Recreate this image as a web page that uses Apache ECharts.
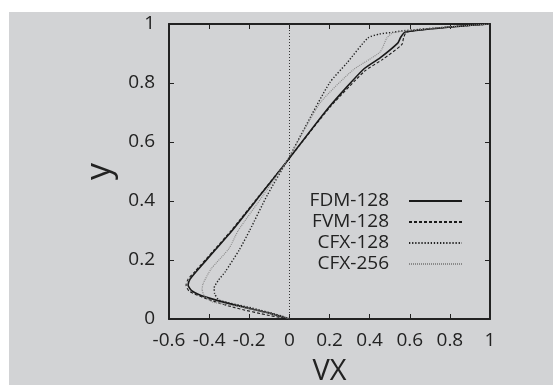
<!DOCTYPE html>
<html>
<head>
<meta charset="utf-8">
<script src="https://cdn.jsdelivr.net/npm/echarts@6/dist/echarts.min.js"></script>
<style>
  html, body { margin: 0; padding: 0; background: #ffffff; }
  #chart { width: 553px; height: 385px; }
</style>
</head>
<body>
<div id="chart"></div>
<script>
// x ticks / y ticks
const xTicks = [-0.6, -0.4, -0.2, 0, 0.2, 0.4, 0.6, 0.8, 1]
const yTicks = [0, 0.2, 0.4, 0.6, 0.8, 1]

const seriesNames = ['FDM-128', 'FVM-128', 'CFX-128', 'CFX-256']

// FDM-128 (solid)
const fdmY = [0, 0.02, 0.047, 0.075, 0.095, 0.115, 0.135, 0.16, 0.234, 0.30, 0.42, 0.545, 0.72, 0.845, 0.885, 0.935, 0.955, 0.973, 0.989, 1]
const fdmX = [0, -0.10, -0.27, -0.42, -0.485, -0.505, -0.495, -0.465, -0.37, -0.285, -0.145, 0, 0.20, 0.367, 0.452, 0.54, 0.555, 0.577, 0.79, 1]

// FVM-128 (dashed)
const fvmY = [0, 0.012, 0.038, 0.07, 0.095, 0.115, 0.135, 0.16, 0.234, 0.30, 0.42, 0.545, 0.72, 0.84, 0.88, 0.93, 0.955, 0.973, 0.989, 1]
const fvmX = [0, -0.10, -0.27, -0.42, -0.50, -0.515, -0.505, -0.472, -0.375, -0.29, -0.148, 0, 0.205, 0.375, 0.465, 0.56, 0.57, 0.585, 0.79, 1]

// CFX-128 (dotted)
const cfx128Y = [0, 0.01, 0.037, 0.064, 0.085, 0.105, 0.13, 0.16, 0.234, 0.30, 0.42, 0.55, 0.65, 0.8, 0.868, 0.953, 0.966, 0.972, 0.977, 0.99, 1]
const cfx128X = [0, -0.037, -0.186, -0.35, -0.372, -0.375, -0.355, -0.32, -0.25, -0.198, -0.11, 0, 0.078, 0.20, 0.287, 0.392, 0.45, 0.516, 0.566, 0.79, 1]

// CFX-256 (light dotted)
const cfx256Y = [0, 0.014, 0.04, 0.058, 0.08, 0.1, 0.12, 0.17, 0.24, 0.30, 0.42, 0.55, 0.732, 0.844, 0.905, 0.953, 0.97, 0.975, 0.99, 1]
const cfx256X = [0, -0.067, -0.236, -0.385, -0.425, -0.435, -0.43, -0.39, -0.30, -0.255, -0.13, 0, 0.153, 0.317, 0.452, 0.486, 0.516, 0.561, 0.79, 1]

const zip = (xs, ys) => xs.map((x, i) => [x, ys[i]])

const font = 'Open Sans'
const ink = '#222'

const chart = echarts.init(document.getElementById('chart'))

const axisBase = {
  type: 'value',
  axisLine: { show: true, onZero: false, lineStyle: { color: ink, width: 2 } },
  axisTick: { show: true, inside: true, length: 5, lineStyle: { color: ink, width: 1 } },
  splitLine: { show: false }
}

function lineSeries(name, xs, ys, color, width, type) {
  return {
    name: name,
    type: 'line',
    data: zip(xs, ys),
    showSymbol: false,
    symbol: 'none',
    smooth: 0.2,
    lineStyle: { color: color, width: width, type: type },
    itemStyle: { color: color }
  }
}

const option = {
  animation: false,
  backgroundColor: 'transparent',
  graphic: [{
    type: 'rect',
    left: 9,
    top: 12,
    z: -100,
    shape: { width: 544, height: 373 },
    style: { fill: '#d2d3d5' }
  }],
  grid: { left: 169, right: 63, top: 24, bottom: 66, containLabel: false, outerBoundsMode: 'none' },
  legend: {
    orient: 'vertical',
    align: 'right',
    right: 90,
    top: 191,
    padding: 0,
    itemGap: 1,
    itemWidth: 53,
    itemHeight: 12,
    data: seriesNames,
    itemStyle: { color: 'transparent', borderColor: 'transparent', borderWidth: 0 },
    textStyle: { fontFamily: font, fontSize: 19, color: ink, lineHeight: 20, padding: [0, 15, 0, 0] }
  },
  xAxis: [
    Object.assign({}, axisBase, {
      position: 'bottom',
      min: xTicks[0], max: xTicks[xTicks.length - 1], interval: 0.2,
      name: 'VX',
      nameLocation: 'middle',
      nameGap: 38,
      nameTextStyle: { fontFamily: font, fontSize: 29, color: ink },
      axisLabel: { fontFamily: font, fontSize: 19, color: ink, margin: 12 }
    }),
    Object.assign({}, axisBase, {
      position: 'top',
      min: xTicks[0], max: xTicks[xTicks.length - 1], interval: 0.2,
      axisLabel: { show: false }
    })
  ],
  yAxis: [
    Object.assign({}, axisBase, {
      position: 'left',
      min: yTicks[0], max: yTicks[yTicks.length - 1], interval: 0.2,
      name: 'y',
      nameLocation: 'middle',
      nameGap: 52,
      nameTextStyle: { fontFamily: font, fontSize: 34, color: ink },
      axisLabel: { fontFamily: font, fontSize: 19, color: ink, margin: 14 }
    }),
    Object.assign({}, axisBase, {
      position: 'right',
      min: yTicks[0], max: yTicks[yTicks.length - 1], interval: 0.2,
      axisLabel: { show: false }
    })
  ],
  series: [
    Object.assign(lineSeries(seriesNames[0], fdmX, fdmY, '#1a1a1a', 1.6, 'solid'), {
      markLine: {
        silent: true,
        symbol: 'none',
        label: { show: false },
        lineStyle: { color: '#333', width: 1, type: [1, 2] },
        data: [{ xAxis: 0 }]
      }
    }),
    lineSeries(seriesNames[1], fvmX, fvmY, '#1a1a1a', 1.1, [3, 2]),
    lineSeries(seriesNames[2], cfx128X, cfx128Y, '#222', 1.4, [1.3, 1.8]),
    lineSeries(seriesNames[3], cfx256X, cfx256Y, '#8a8a8a', 1.1, [1, 1])
  ]
}

chart.setOption(option)
</script>
</body>
</html>
